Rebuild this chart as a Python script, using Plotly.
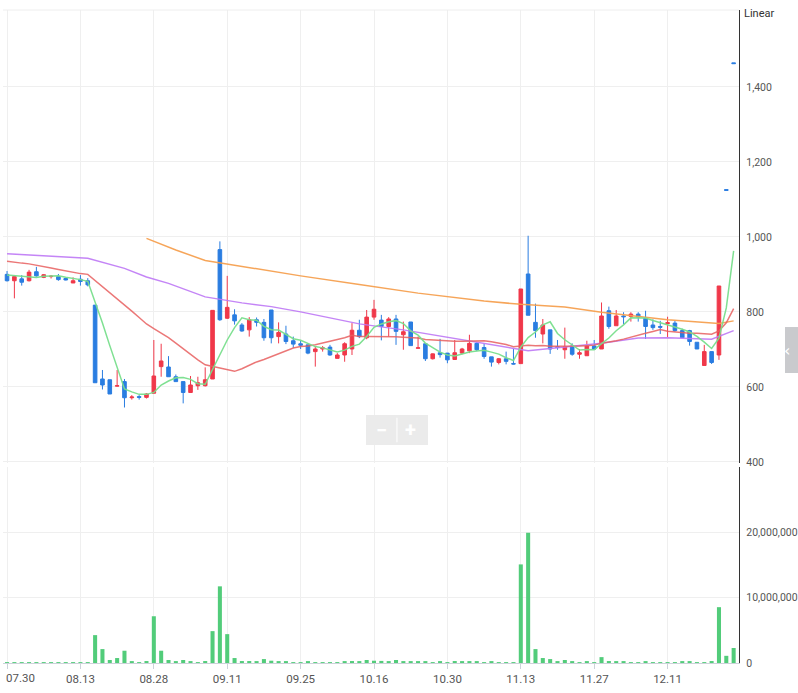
import plotly.graph_objects as go

dates = ["07.30","07.31","08.03","08.04","08.05","08.06","08.07","08.10","08.11","08.12",
         "08.13","08.14","08.18","08.19","08.20","08.21","08.24","08.25","08.26","08.27",
         "08.28","08.31","09.01","09.02","09.03","09.04","09.07","09.08","09.09","09.10",
         "09.11","09.14","09.15","09.16","09.17","09.18","09.21","09.22","09.23","09.24",
         "09.25","09.28","09.29","10.05","10.06","10.07","10.08","10.12","10.13","10.14",
         "10.16","10.19","10.20","10.21","10.22","10.23","10.26","10.27","10.28","10.29",
         "10.30","11.02","11.03","11.04","11.05","11.06","11.09","11.10","11.11","11.12",
         "11.13","11.16","11.17","11.18","11.19","11.20","11.23","11.24","11.25","11.26",
         "11.27","11.30","12.01","12.02","12.03","12.04","12.07","12.08","12.09","12.10",
         "12.11","12.14","12.15","12.16","12.17","12.18","12.21","12.22","12.23","12.24"]

opens = [900,883,888,883,907,892,894,894,889,877,887,883,818,621,619,602,614,571,574,572,
         583,654,653,627,614,585,603,603,621,966,783,792,765,752,779,772,805,734,741,723,
         715,712,694,701,706,676,685,701,751,731,786,778,761,781,739,773,703,715,675,691,
         690,673,690,696,716,705,680,665,675,662,662,901,772,741,752,707,699,709,687,683,
         709,701,803,763,789,788,794,783,765,761,769,770,750,750,719,657,694,685,1126,1464]
highs = [909,896,898,912,920,901,898,901,890,892,898,890,818,645,619,645,621,578,578,583,
         725,715,682,633,614,629,627,652,804,988,896,807,770,786,785,781,805,772,763,734,
         723,712,708,709,712,690,719,770,779,805,832,792,786,792,774,773,734,715,689,728,
         690,725,704,739,719,715,680,677,694,701,861,1003,822,781,752,725,758,716,701,723,
         725,825,814,805,799,799,799,803,780,776,787,776,755,752,719,712,694,869,1126,1464]
lows = [881,836,870,881,894,890,889,883,884,877,870,868,611,593,581,601,545,566,566,569,
        583,627,627,614,556,585,592,601,621,776,781,766,747,734,761,723,716,716,714,704,
        701,687,654,694,683,676,667,685,730,727,779,724,734,712,699,710,703,669,673,678,
        663,673,687,690,695,675,654,660,660,660,662,791,731,716,688,699,675,683,675,683,
        699,701,755,763,767,774,774,728,752,741,733,747,730,710,701,657,661,672,1124,1462]
closes = [883,894,879,906,896,899,895,886,885,883,881,872,611,605,581,603,571,573,572,581,
          629,669,627,614,585,605,611,619,804,779,812,776,749,779,772,731,731,745,721,714,
          711,690,701,704,685,685,715,751,734,786,807,761,781,748,747,710,704,675,688,686,
          672,691,701,716,699,681,666,675,668,661,861,791,750,765,701,705,707,687,691,709,
          701,789,761,789,787,794,786,761,758,759,771,750,731,721,701,694,665,869,1124,1462]

volumes = [25000,20000,20000,25000,20000,20000,15000,20000,15000,15000,
           20000,30000,4270000,2130000,460000,760000,1880000,200000,25000,300000,
           7160000,1880000,460000,150000,460000,200000,25000,300000,4880000,11740000,
           4420000,760000,300000,300000,200000,600000,350000,200000,200000,20000,
           20000,200000,20000,20000,20000,20000,200000,300000,250000,460000,
           350000,320000,200000,460000,150000,150000,150000,150000,20000,150000,
           20000,300000,150000,150000,150000,20000,150000,20000,20000,20000,
           15100000,19950000,2130000,760000,600000,150000,460000,150000,20000,150000,
           20000,900000,300000,150000,150000,20000,20000,150000,20000,20000,
           20000,20000,150000,150000,20000,20000,300000,8550000,1100000,2300000]

ma5 = [898,896,894,892,891.6,894.8,895,896.4,892.2,889.6,886,881.4,826.4,770.4,710,654.4,594.2,586.6,580,580,
       585.2,604.8,615.6,624,624.8,620,608.4,606.8,644.8,683.6,725,758,784,779,777.6,761.4,752.4,751.6,740,728.4,
       724.4,716.2,707.4,704,698.2,693,698,708,714,734.2,758.6,767.8,773.8,776.6,768.8,749.4,738,716.8,704.8,692.6,
       685,682.4,687.6,693.2,695.8,697.6,692.6,687.4,677.8,670.2,706.2,731.2,746.2,765.6,773.6,742.4,725.6,713,698.2,699.8,
       699,715.4,730.2,749.8,765.4,784,783.4,783.4,777.2,771.6,767,759.8,753.8,746.4,734.8,719.4,702.4,730,810.6,962.6]
ma20 = [935,932,930,928,925,921,917,913,909,905,902,900,884,868,852,835,819,802,785,767.8,
        755.1,743.9,731.3,716.7,701.1,686.4,672.2,658.9,654.8,649.6,646.2,641.4,648.3,657,666.5,672.9,680.9,689.5,697,703.6,
        707.7,708.8,712.5,717,722,726,731.2,737.8,734.3,734.6,734.4,733.6,735.2,733.7,732.4,731.4,730,726.5,724.9,723.5,
        721.5,721.6,721.6,722.2,722.9,722.7,720.2,716.4,713.1,706.9,709.6,711.1,709.5,710.4,708.1,707.8,708,708.6,708.7,709.9,
        711.3,716.2,719.2,722.9,727.3,732.9,738.9,743.2,747.7,752.6,748.1,746.1,745.1,742.9,742.9,742.4,740.3,749.4,771,808.6]
ma60_idx = [0, 11, 16, 19, 22, 27, 32, 36, 40, 48, 54, 63, 65, 69, 71, 76, 81, 86, 90, 96, 99]
ma60_val = [955, 943, 916, 893, 876, 840, 824, 814, 800, 768, 752, 722, 716, 703, 696, 706, 716, 730, 731, 727, 750]
ma120_idx = [19, 23, 27, 32, 40, 48, 56, 65, 70, 76, 81, 90, 96, 97, 99]
ma120_val = [996, 965, 937, 921, 896, 873, 850, 829, 820, 813, 799, 779, 770, 769, 776]

price_ticks = [400, 600, 800, 1000, 1200, 1400]
volume_ticks = [0, 10000000, 20000000]
tick_every = 10

RED = "#f0384a"
BLUE = "#2a7de1"
GREEN_VOL = "#52cc7a"

fig = go.Figure()
fig.add_trace(go.Candlestick(
    x=dates, open=opens, high=highs, low=lows, close=closes,
    increasing=dict(line=dict(color=RED, width=1), fillcolor=RED),
    decreasing=dict(line=dict(color=BLUE, width=1), fillcolor=BLUE),
    xaxis="x", yaxis="y", showlegend=False, hoverinfo="skip"))

fig.add_trace(go.Scatter(x=[dates[i] for i in ma120_idx], y=ma120_val, mode="lines",
                         line=dict(color="rgba(245,160,80,0.95)", width=1.5), xaxis="x", yaxis="y", showlegend=False))
fig.add_trace(go.Scatter(x=[dates[i] for i in ma60_idx], y=ma60_val, mode="lines",
                         line=dict(color="rgba(190,120,245,0.9)", width=1.5), xaxis="x", yaxis="y", showlegend=False))
fig.add_trace(go.Scatter(x=dates, y=ma20, mode="lines",
                         line=dict(color="rgba(232,95,95,0.85)", width=1.5), xaxis="x", yaxis="y", showlegend=False))
fig.add_trace(go.Scatter(x=dates, y=ma5, mode="lines",
                         line=dict(color="rgba(120,222,140,0.95)", width=1.5), xaxis="x", yaxis="y", showlegend=False))

fig.add_trace(go.Bar(x=dates, y=volumes, marker=dict(color=GREEN_VOL, line=dict(width=0)),
                     width=0.55, xaxis="x2", yaxis="y2", showlegend=False))

tickvals = dates[::tick_every]
ticktext = [""] + dates[tick_every::tick_every]

FAM = "Liberation Sans Narrow, Roboto, Arial, sans-serif"
font = dict(family=FAM, size=11.5, color="#555555")
yfont = dict(family=FAM, size=10.5, color="#555555")
GRID = "#efefef"

fig.update_layout(
    width=798, height=693,
    margin=dict(l=3, r=59, t=10, b=30, autoexpand=False),
    paper_bgcolor="white", plot_bgcolor="white",
    font=font,
    showlegend=False,
    xaxis=dict(domain=[0, 1], anchor="y", type="category", categoryorder="array", categoryarray=dates,
               range=[-0.55, 99.73], tickmode="array", tickvals=tickvals, showticklabels=False,
               showgrid=True, gridcolor=GRID, gridwidth=1, zeroline=False, showline=False,
               rangeslider=dict(visible=False), fixedrange=True, automargin=False),
    yaxis=dict(domain=[0.3063, 1], anchor="x", side="right", range=[397, 1605],
               tickmode="array", tickvals=price_ticks, tickformat=",d",
               showgrid=True, gridcolor=GRID, zeroline=False,
               showline=True, linecolor="#333333", linewidth=1.3, ticks="",
               ticklabelstandoff=4, tickfont=yfont, automargin=False),
    xaxis2=dict(domain=[0, 1], anchor="y2", type="category", categoryorder="array", categoryarray=dates,
                matches="x", range=[-0.55, 99.73], tickmode="array", tickvals=tickvals, ticktext=ticktext,
                showgrid=True, gridcolor=GRID, zeroline=False, showline=True, linecolor="#cdd2da",
                ticks="outside", ticklen=5, tickcolor="#cdd2da", tickfont=font, automargin=False),
    yaxis2=dict(domain=[0, 0.300], anchor="x2", side="right", range=[0, 30000000],
                tickmode="array", tickvals=volume_ticks, tickformat=",d",
                showgrid=True, gridcolor=GRID, zeroline=False,
                showline=True, linecolor="#333333", linewidth=1.3, ticks="",
                ticklabelstandoff=4, tickfont=yfont, automargin=False),
)

shapes = [
    dict(type="line", xref="paper", yref="paper", x0=0, x1=1, y0=1.0, y1=1.0,
         line=dict(color="#eeeeee", width=1)),
    dict(type="rect", xref="paper", yref="paper", x0=0.4932, x1=0.5774, y0=0.3338, y1=0.3798,
         fillcolor="#ebebeb", line=dict(width=0), layer="above"),
    dict(type="line", xref="paper", yref="paper", x0=0.5353, x1=0.5353, y0=0.3380, y1=0.3756,
         line=dict(color="#ffffff", width=1), layer="above"),
    dict(type="rect", xref="paper", yref="paper", x0=1.0625, x1=1.0815, y0=0.4441, y1=0.5145,
         fillcolor="#c9cacd", line=dict(width=0), layer="above"),
]
fig.update_layout(shapes=shapes)

annotations = [
    dict(text=dates[0], xref="paper", yref="paper", x=0, y=0, xanchor="left", yanchor="top",
         xshift=1, yshift=-6, showarrow=False, font=font),
    dict(text="Linear", xref="paper", yref="paper", x=1, y=1, xanchor="left", yanchor="middle",
         xshift=3, yshift=-3, showarrow=False, font=dict(family=FAM, size=11, color="#333333")),
    dict(text="<b>−</b>", xref="paper", yref="paper", x=0.5136, y=0.3568, showarrow=False,
         font=dict(family="Roboto, Arial, sans-serif", size=20, color="#ffffff")),
    dict(text="<b>+</b>", xref="paper", yref="paper", x=0.5543, y=0.3568, showarrow=False,
         font=dict(family="Roboto, Arial, sans-serif", size=20, color="#ffffff")),
    dict(text="‹", xref="paper", yref="paper", x=1.0720, y=0.479, showarrow=False,
         font=dict(family="DejaVu Sans, sans-serif", size=16, color="#ffffff")),
]
fig.update_layout(annotations=annotations)

fig.write_html("out.html", config={"displayModeBar": False},
               post_script="document.body.style.margin='0';document.body.style.padding='0';")
